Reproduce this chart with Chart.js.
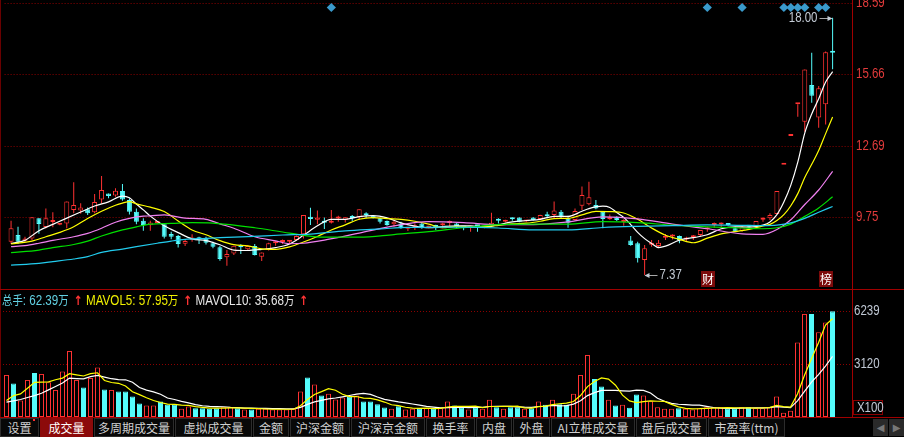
<!DOCTYPE html>
<html><head><meta charset="utf-8">
<script src="https://cdn.jsdelivr.net/npm/chart.js@4.4.1/dist/chart.umd.min.js"></script>
<style>
html,body{margin:0;padding:0;background:#000;width:904px;height:437px;overflow:hidden;position:relative;}
canvas{position:absolute;left:0;}
#price{top:-10px;}
#vol{top:280px;}
.hl{position:absolute;left:0;width:904px;height:1px;background:#a00000;}
.vl{position:absolute;width:1px;background:#a00000;}
#legend{position:absolute;top:291px;left:2px;height:17px;font:14px 'Liberation Sans',Arial,'Noto Sans CJK SC',sans-serif;line-height:17px;white-space:nowrap;transform:scaleX(0.83);transform-origin:0 0;}
.cjk{font-family:'Noto Sans CJK SC',sans-serif;font-size:12.5px;}
.arr{color:#ff3434;font:bold 13px 'DejaVu Sans',sans-serif;margin:0 4px 0 6px;}
#x100{position:absolute;left:853px;top:400px;width:30px;height:15px;border:1px solid #8a0000;box-sizing:border-box;color:#c0c8d4;font:14px 'Liberation Sans',Arial,sans-serif;line-height:13px;text-align:center;}
#x100 span{display:inline-block;transform:scaleX(0.82);}
#tabs{position:absolute;left:0;top:418px;width:904px;height:19px;background:#000;}
.tab{position:absolute;top:0;height:19px;box-sizing:border-box;border:1px solid #2c2c2c;background:#080808;color:#d0d0d0;font:12px 'Noto Sans CJK SC',sans-serif;line-height:17px;text-align:center;white-space:nowrap;}
.tab.sel{background:#8c0a0a;color:#fff;border-color:#8c0a0a;}
.btn{position:absolute;top:1px;width:15px;height:17px;background:#2a2a2a;color:#777;font:10px 'DejaVu Sans',sans-serif;line-height:17px;text-align:center;}
</style></head><body>
<canvas id="price" width="904" height="309"></canvas>
<canvas id="vol" width="904" height="147"></canvas>
<div class="vl" style="left:0;top:0;height:418px;background:#6a0000"></div>
<div class="vl" style="left:852px;top:0;height:418px"></div>
<div class="hl" style="top:289px"></div>
<div class="hl" style="top:417px"></div>
<div id="legend"><span style="color:#62d0e2"><span class="cjk">总手</span>: 62.39<span class="cjk">万</span></span><span class="arr">↑</span><span style="color:#f0f000">MAVOL5: 57.95<span class="cjk">万</span></span><span class="arr">↑</span><span style="color:#e8e8e8">MAVOL10: 35.68<span class="cjk">万</span></span><span class="arr">↑</span></div>
<div id="x100"><span>X100</span></div>
<div id="tabs">
<div class="tab" style="left:0;width:39px">设置</div>
<div style="position:absolute;left:33px;top:1px;width:2px;height:2px;background:#ff3030"></div>
<div class="tab sel" style="left:40px;width:53px">成交量</div>
<div class="tab" style="left:94px;width:80px">多周期成交量</div>
<div class="tab" style="left:175px;width:77px">虚拟成交量</div>
<div class="tab" style="left:253px;width:36px">金额</div>
<div class="tab" style="left:290px;width:60px">沪深金额</div>
<div class="tab" style="left:351px;width:74px">沪深京金额</div>
<div class="tab" style="left:426px;width:49px">换手率</div>
<div class="tab" style="left:476px;width:36px">内盘</div>
<div class="tab" style="left:513px;width:37px">外盘</div>
<div class="tab" style="left:551px;width:84px">AI立桩成交量</div>
<div class="tab" style="left:636px;width:71px">盘后成交量</div>
<div class="tab" style="left:708px;width:77px">市盈率(ttm)</div>
<div class="btn" style="left:873px">◀</div>
<div class="btn" style="left:889px">▶</div>
</div>
<script>
// ---------- data ----------
const priceTicks = [18.59, 15.66, 12.69, 9.75];
const volTicks = [6239, 3120];
const opens = [8.74,9.02,8.78,8.88,9.71,9.35,9.56,9.44,9.50,10.05,
 10.03,10.09,9.96,10.49,10.74,10.65,10.84,10.47,9.98,9.61,
 9.42,9.52,9.47,9.06,8.98,8.66,8.81,8.86,8.88,8.68,
 8.51,8.10,8.26,8.53,8.43,8.57,8.12,8.40,8.68,8.73,
 8.74,8.81,9.05,9.78,9.65,9.55,9.53,9.70,9.64,9.73,
 9.75,9.85,9.83,9.71,9.60,9.47,9.50,9.28,9.34,9.50,
 9.33,9.43,9.42,9.52,9.50,9.36,9.33,9.40,9.33,9.43,
 9.62,9.57,9.69,9.74,9.58,9.74,9.68,9.82,9.85,9.98,
 9.71,9.64,10.23,10.29,10.26,9.98,9.67,9.78,9.56,8.79,
 8.68,7.99,8.62,8.57,8.91,8.96,8.98,8.84,8.93,9.02,
 9.26,9.43,9.45,9.45,9.30,9.20,9.37,9.36,9.65,9.71,
 9.89,11.92,13.11,14.42,13.70,15.22,13.88,14.42,16.62];
const highs = [9.61,9.36,8.95,9.75,9.71,10.12,9.96,9.49,10.40,11.20,
 10.33,10.16,10.71,11.46,10.74,10.95,11.13,10.54,10.12,9.71,
 9.61,9.57,9.47,9.16,9.02,8.84,9.05,8.95,8.95,8.74,
 8.57,8.40,8.58,8.64,8.60,8.65,8.30,8.70,8.77,8.84,
 8.80,9.00,9.85,10.15,10.03,9.74,10.05,9.82,9.75,9.85,
 10.09,9.96,9.85,9.72,9.62,9.64,9.57,9.31,9.50,9.52,
 9.40,9.44,9.53,9.62,9.52,9.37,9.37,9.43,9.38,9.94,
 9.71,9.65,9.74,9.75,9.65,9.75,9.86,9.98,10.40,10.05,
 9.82,10.12,11.02,11.22,10.47,10.00,9.87,9.80,9.67,8.98,
 8.74,8.61,8.81,8.81,9.06,9.05,9.00,8.95,9.02,9.23,
 9.36,9.54,9.54,9.48,9.36,9.43,9.40,9.60,9.75,9.92,
 10.84,11.92,13.11,14.42,15.86,16.55,15.18,16.60,18.00];
const lows = [8.65,8.65,8.74,8.81,9.07,9.30,9.34,9.42,9.30,9.92,
 9.90,9.85,9.92,10.33,10.54,10.60,10.44,9.87,9.46,9.20,
 9.20,9.50,8.88,8.85,8.50,8.57,8.74,8.65,8.63,8.47,
 7.96,7.75,8.19,8.24,8.40,8.17,7.95,8.38,8.58,8.65,
 8.66,8.79,8.88,9.43,9.46,9.27,9.50,9.57,9.54,9.60,
 9.64,9.71,9.70,9.50,9.40,9.36,9.28,9.19,9.23,9.28,
 9.30,9.23,9.30,9.37,9.30,9.22,9.16,9.16,9.30,9.36,
 9.50,9.55,9.61,9.55,9.56,9.62,9.64,9.71,9.71,9.72,
 9.32,9.62,10.05,10.25,10.09,9.30,9.65,9.60,9.40,8.58,
 7.88,7.37,8.54,8.51,8.81,8.84,8.68,8.74,8.81,8.95,
 9.16,9.32,9.32,9.40,9.14,9.16,9.33,9.32,9.57,9.64,
 9.89,11.92,13.11,13.91,13.29,14.49,13.45,13.59,15.87];
const closes = [9.30,8.74,8.88,9.75,9.48,9.71,9.58,9.47,10.40,10.26,
 10.16,9.92,10.38,10.88,10.63,10.85,10.49,9.98,9.57,9.43,
 9.54,9.54,8.95,8.95,8.65,8.77,8.92,8.85,8.70,8.54,
 8.03,8.24,8.58,8.51,8.57,8.19,8.30,8.68,8.70,8.76,
 8.75,8.98,9.85,9.68,9.74,9.53,9.61,9.72,9.75,9.72,
 10.09,9.84,9.71,9.57,9.43,9.57,9.30,9.30,9.36,9.30,
 9.36,9.30,9.44,9.54,9.34,9.33,9.36,9.38,9.35,9.53,
 9.61,9.64,9.67,9.57,9.63,9.64,9.85,9.80,10.03,9.75,
 9.53,10.01,10.67,10.58,10.12,9.68,9.75,9.64,9.58,8.61,
 8.06,8.47,8.64,8.70,8.93,8.98,8.81,8.86,8.95,9.23,
 9.28,9.45,9.47,9.43,9.16,9.34,9.36,9.60,9.67,9.85,
 10.84,11.92,13.11,14.42,15.86,14.77,15.08,16.57,16.55];
const volumes = [2482,1972,971,2188,2600,2541,2050,1599,2678,3895,
 2188,1736,2305,2914,1619,1599,1501,1501,1207,795,
 677,677,912,716,716,481,618,520,520,481,
 520,579,579,520,441,441,481,481,441,441,
 441,481,1501,2325,1913,1265,1364,1030,1148,1226,
 1265,912,912,755,559,481,638,441,481,520,
 520,481,520,912,677,579,441,579,481,1010,
 579,481,579,579,481,520,912,716,1010,755,
 716,1364,2482,3659,2246,1795,1010,677,716,540,
 1324,1265,932,579,481,481,520,481,441,520,
 579,579,579,481,481,579,579,520,520,579,
 1207,245,363,4400,6080,6080,5000,5570,6239];
const mavol5 = [971,1265,1364,1700,2043,2054,2070,2196,2294,2553,
 2482,2419,2560,2608,2152,2035,1988,1827,1485,1321,
 1136,971,854,755,740,700,689,610,571,524,
 532,524,536,536,528,512,492,473,457,457,
 457,457,661,1038,1332,1497,1674,1579,1344,1207,
 1207,1116,1093,1014,881,724,669,575,520,512,
 520,489,504,591,622,634,626,638,551,618,
 618,626,626,646,540,528,614,642,728,783,
 822,912,1265,1795,2093,2309,2238,1877,1289,948,
 853,904,955,928,916,748,599,508,481,489,
 508,520,540,548,540,540,540,528,536,555,
 681,614,583,1359,2459,3434,4385,5426,5794];
const mavol10 = [873,950,1030,1150,1265,1400,1600,1800,2000,2298,
 2268,2245,2378,2451,2353,2258,2203,2194,2047,1737,
 1585,1480,1340,1120,1030,918,830,732,663,632,
 616,606,573,553,526,522,508,504,496,492,
 485,475,567,747,895,977,1065,1120,1191,1269,
 1352,1395,1336,1179,1044,965,893,834,767,696,
 622,579,540,555,567,577,557,571,571,620,
 626,626,632,599,579,573,620,634,687,661,
 675,763,954,1262,1438,1566,1575,1571,1542,1521,
 1581,1571,1416,1108,932,801,752,732,704,702,
 628,559,524,514,514,524,530,534,542,548,
 610,577,555,947,1507,2057,2499,3004,3576];
// moving averages: [day index, value]
const ma5 = [[0,8.67],[2,8.80],[4,9.20],[6,9.46],[8,9.72],[10,9.97],[12,10.22],[14,10.39],[16,10.63],[17,10.56],[18,10.30],[19,10.06],[20,9.80],[22,9.40],[24,9.12],[26,8.86],[28,8.79],[30,8.62],[32,8.40],[34,8.38],[36,8.43],[38,8.50],[40,8.65],[42,9.01],[44,9.40],[46,9.67],[48,9.67],[50,9.78],[52,9.82],[54,9.73],[56,9.52],[58,9.39],[60,9.32],[62,9.37],[64,9.40],[66,9.40],[68,9.35],[70,9.45],[72,9.56],[74,9.62],[76,9.67],[78,9.79],[80,9.79],[82,10.00],[83,10.11],[85,10.21],[86,10.16],[87,9.95],[88,9.75],[89,9.45],[90,9.13],[91,8.87],[92,8.67],[93,8.50],[94,8.56],[96,8.81],[98,8.91],[100,9.03],[102,9.28],[104,9.36],[106,9.35],[108,9.43],[109,9.56],[110,9.86],[111,10.38],[112,11.08],[113,12.03],[114,13.23],[115,14.02],[116,14.65],[117,15.34],[118,15.77]];
const ma10 = [[0,8.65],[3,8.77],[5,8.95],[7,9.13],[9,9.36],[11,9.70],[13,10.00],[15,10.25],[16,10.34],[17,10.40],[18,10.31],[20,10.17],[22,9.99],[24,9.60],[26,9.23],[28,9.03],[30,8.79],[32,8.62],[34,8.57],[36,8.45],[38,8.43],[40,8.53],[42,8.73],[44,8.96],[46,9.23],[48,9.44],[50,9.67],[52,9.74],[54,9.70],[56,9.67],[58,9.59],[60,9.47],[62,9.32],[64,9.38],[66,9.36],[68,9.37],[70,9.42],[72,9.48],[74,9.51],[76,9.59],[78,9.70],[80,9.71],[82,9.85],[84,10.00],[86,9.99],[88,9.93],[90,9.67],[92,9.31],[94,9.01],[96,8.84],[98,8.70],[100,8.89],[102,9.07],[104,9.16],[106,9.25],[108,9.40],[109,9.46],[110,9.62],[111,9.86],[112,10.23],[113,10.73],[114,11.40],[115,11.94],[116,12.51],[117,13.21],[118,13.90]];
const ma20 = [[0,8.54],[2,8.58],[4,8.68],[6,8.80],[9,8.95],[11,9.09],[13,9.30],[15,9.55],[17,9.71],[19,9.80],[20,9.81],[22,9.85],[25,9.72],[28,9.67],[30,9.48],[32,9.30],[35,8.95],[38,8.78],[40,8.66],[42,8.68],[45,8.81],[50,9.10],[55,9.40],[60,9.57],[65,9.53],[70,9.45],[75,9.45],[80,9.56],[85,9.77],[90,9.69],[95,9.47],[100,9.28],[105,9.07],[108,9.05],[110,9.25],[112,9.65],[114,10.28],[116,10.88],[118,11.65]];
const ma30 = [[0,8.29],[4,8.40],[6,8.50],[9,8.63],[11,8.77],[13,8.98],[16,9.23],[18,9.36],[20,9.47],[23,9.50],[26,9.53],[29,9.51],[35,9.32],[40,9.10],[45,8.93],[50,8.93],[55,9.04],[60,9.16],[65,9.32],[70,9.45],[75,9.47],[80,9.47],[85,9.57],[90,9.53],[95,9.43],[100,9.36],[105,9.31],[108,9.28],[110,9.32],[112,9.47],[114,9.79],[116,10.14],[118,10.60]];
const ma60 = [[0,7.78],[4,7.85],[6,7.92],[9,8.03],[11,8.13],[13,8.30],[16,8.44],[18,8.54],[21,8.68],[23,8.77],[25,8.84],[28,8.88],[30,8.91],[34,8.95],[39,9.02],[43,9.06],[48,9.19],[53,9.27],[57,9.34],[59,9.34],[65,9.35],[70,9.31],[75,9.23],[80,9.23],[85,9.33],[90,9.38],[95,9.41],[100,9.44],[105,9.42],[108,9.41],[110,9.43],[112,9.52],[114,9.71],[116,9.96],[118,10.20]];
const signalDays = [46, 100, 105, 111, 112, 113, 114, 116, 117];
const eventDays = [100, 117];
const eventText = ['财', '榜'];

// ---------- drawing ----------
const RED = '#ff3232', CYAN = '#54fcfc';
const up = closes.map((c, i) => c >= opens[i]);
const colr = up.map(u => u ? RED : CYAN);
const fill = up.map(u => u ? '#000000' : CYAN);
const X_MIN = -6.5 / 7, X_MAX = X_MIN + 852 / 7;
const numFont = "14px 'Liberation Sans',Arial,sans-serif";
const NARROW = 0.82;
const pts = arr => arr.map(([x, y]) => ({x, y}));
const maLine = (arr, color) => ({type:'line', data: pts(arr), borderColor: color, borderWidth: 1.2, pointRadius: 0, cubicInterpolationMode: 'monotone', order: 1});

function narrowText(ctx, text, x, y, align) {
  ctx.save();
  ctx.translate(x, y);
  ctx.scale(NARROW, 1);
  ctx.textAlign = align;
  ctx.fillText(text, 0, 0);
  ctx.restore();
}

// tick labels of the right-hand axis, drawn at the scale's own tick pixels
function axisLabels(color, pad, fmt) {
  return {
    id: 'axisLabels',
    afterDraw(chart) {
      const s = chart.scales.y, ctx = chart.ctx;
      ctx.save();
      ctx.font = numFont; ctx.fillStyle = color; ctx.textBaseline = 'middle';
      s.ticks.forEach(t => narrowText(ctx, fmt(t.value), s.left + pad, s.getPixelForValue(t.value), 'left'));
      ctx.restore();
    }
  };
}

const marks = {
  id: 'marks',
  afterDatasetsDraw(chart) {
    const {ctx, chartArea: ca, scales: {x, y}} = chart;
    ctx.save();
    ctx.beginPath(); ctx.rect(ca.left, ca.top, ca.width, ca.height); ctx.clip();
    let hi = 0, lo = 0;
    highs.forEach((h, i) => { if (h > highs[hi]) hi = i; });
    lows.forEach((l, i) => { if (l < lows[lo]) lo = i; });
    ctx.font = numFont;
    ctx.textBaseline = 'middle';
    ctx.fillStyle = '#c4ccd6'; ctx.strokeStyle = '#a8a8a8'; ctx.lineWidth = 1;
    let px = Math.floor(x.getPixelForValue(hi)) + 0.5, py = Math.round(y.getPixelForValue(highs[hi])) + 0.5;
    ctx.beginPath(); ctx.moveTo(px - 13, py); ctx.lineTo(px - 1, py); ctx.stroke();
    ctx.beginPath(); ctx.moveTo(px, py); ctx.lineTo(px - 5, py - 2.5); ctx.lineTo(px - 5, py + 2.5); ctx.closePath(); ctx.fill();
    narrowText(ctx, highs[hi].toFixed(2), px - 15, py, 'right');
    px = Math.floor(x.getPixelForValue(lo)) + 0.5; py = Math.round(y.getPixelForValue(lows[lo])) + 0.5;
    ctx.beginPath(); ctx.moveTo(px + 1, py); ctx.lineTo(px + 13, py); ctx.stroke();
    ctx.beginPath(); ctx.moveTo(px, py); ctx.lineTo(px + 5, py - 2.5); ctx.lineTo(px + 5, py + 2.5); ctx.closePath(); ctx.fill();
    narrowText(ctx, lows[lo].toFixed(2), px + 15, py, 'left');
    ctx.font = "12px 'Noto Sans CJK SC',sans-serif";
    ctx.textAlign = 'center';
    eventDays.forEach((d, k) => {
      const cx = Math.floor(x.getPixelForValue(d));
      ctx.fillStyle = '#7c0a0a';
      ctx.fillRect(cx - 6, ca.bottom - 18, 14, 16);
      ctx.fillStyle = '#ffffff';
      ctx.fillText(eventText[k], cx + 1, ca.bottom - 10);
    });
    ctx.restore();
  }
};

new Chart(document.getElementById('price'), {
  type: 'bar',
  data: { datasets: [
    {type:'bar', data: lows.map((l, i) => ({x: i, y: [l, highs[i]]})), backgroundColor: colr, borderWidth: 0, barThickness: 1, grouped: false, inflateAmount: 0, order: 3},
    {type:'bar', data: opens.map((o, i) => ({x: i, y: [o, closes[i]]})), backgroundColor: fill, borderColor: colr, borderWidth: 1, borderSkipped: false, barThickness: 5, minBarLength: 2, grouped: false, inflateAmount: 0, order: 2},
    maLine(ma60, '#22ccee'),
    maLine(ma30, '#00e000'),
    maLine(ma20, '#f080f0'),
    maLine(ma10, '#ffff00'),
    maLine(ma5, '#ffffff'),
    {type:'line', showLine: false, yAxisID: 'ySig', data: signalDays.map(d => ({x: d, y: 0.974})), pointStyle: 'rectRot', pointRadius: 4.6, pointBackgroundColor: '#3a9acc', pointBorderWidth: 0, order: 0}
  ]},
  options: {
    responsive: false, animation: false, devicePixelRatio: 1, events: [],
    layout: {padding: {top: 10, bottom: 10, left: 0, right: 0}},
    plugins: {legend: {display: false}, tooltip: {enabled: false}},
    scales: {
      x: {type: 'linear', min: X_MIN, max: X_MAX, display: false, offset: false},
      y: {position: 'right', min: 6.79, max: 18.73,
          afterFit: s => { s.width = 52; },
          afterBuildTicks: s => { s.ticks = priceTicks.map(v => ({value: v})); },
          ticks: {display: false},
          grid: {color: '#8c0000', drawTicks: false, lineWidth: 1},
          border: {display: false, dash: [1, 2]}},
      ySig: {display: false, min: 0, max: 1}
    }
  },
  plugins: [marks, axisLabels('#e23b3b', 4, v => v.toFixed(2))]
});

new Chart(document.getElementById('vol'), {
  type: 'bar',
  data: { datasets: [
    {type:'bar', data: volumes.map((v, i) => ({x: i, y: v})), backgroundColor: fill, borderColor: colr, borderWidth: 1, borderSkipped: false, barThickness: 5, grouped: false, inflateAmount: 0, order: 2},
    {type:'line', data: mavol10.map((v, i) => ({x: i, y: v})), borderColor: '#ffffff', borderWidth: 1.2, pointRadius: 0, tension: 0, order: 1},
    {type:'line', data: mavol5.map((v, i) => ({x: i, y: v})), borderColor: '#ffff00', borderWidth: 1.2, pointRadius: 0, tension: 0, order: 0}
  ]},
  options: {
    responsive: false, animation: false, devicePixelRatio: 1, events: [],
    layout: {padding: {top: 10, bottom: 10, left: 0, right: 0}},
    plugins: {legend: {display: false}, tooltip: {enabled: false}},
    scales: {
      x: {type: 'linear', min: X_MIN, max: X_MAX, display: false, offset: false},
      y: {position: 'right', min: 0, max: 7490,
          afterFit: s => { s.width = 52; },
          afterBuildTicks: s => { s.ticks = volTicks.map(v => ({value: v})); },
          ticks: {display: false},
          grid: {color: '#8c0000', drawTicks: false, lineWidth: 1},
          border: {display: false, dash: [1, 2]}}
    }
  },
  plugins: [axisLabels('#c0c8d4', 2, v => String(v))]
});
</script>
</body></html>
